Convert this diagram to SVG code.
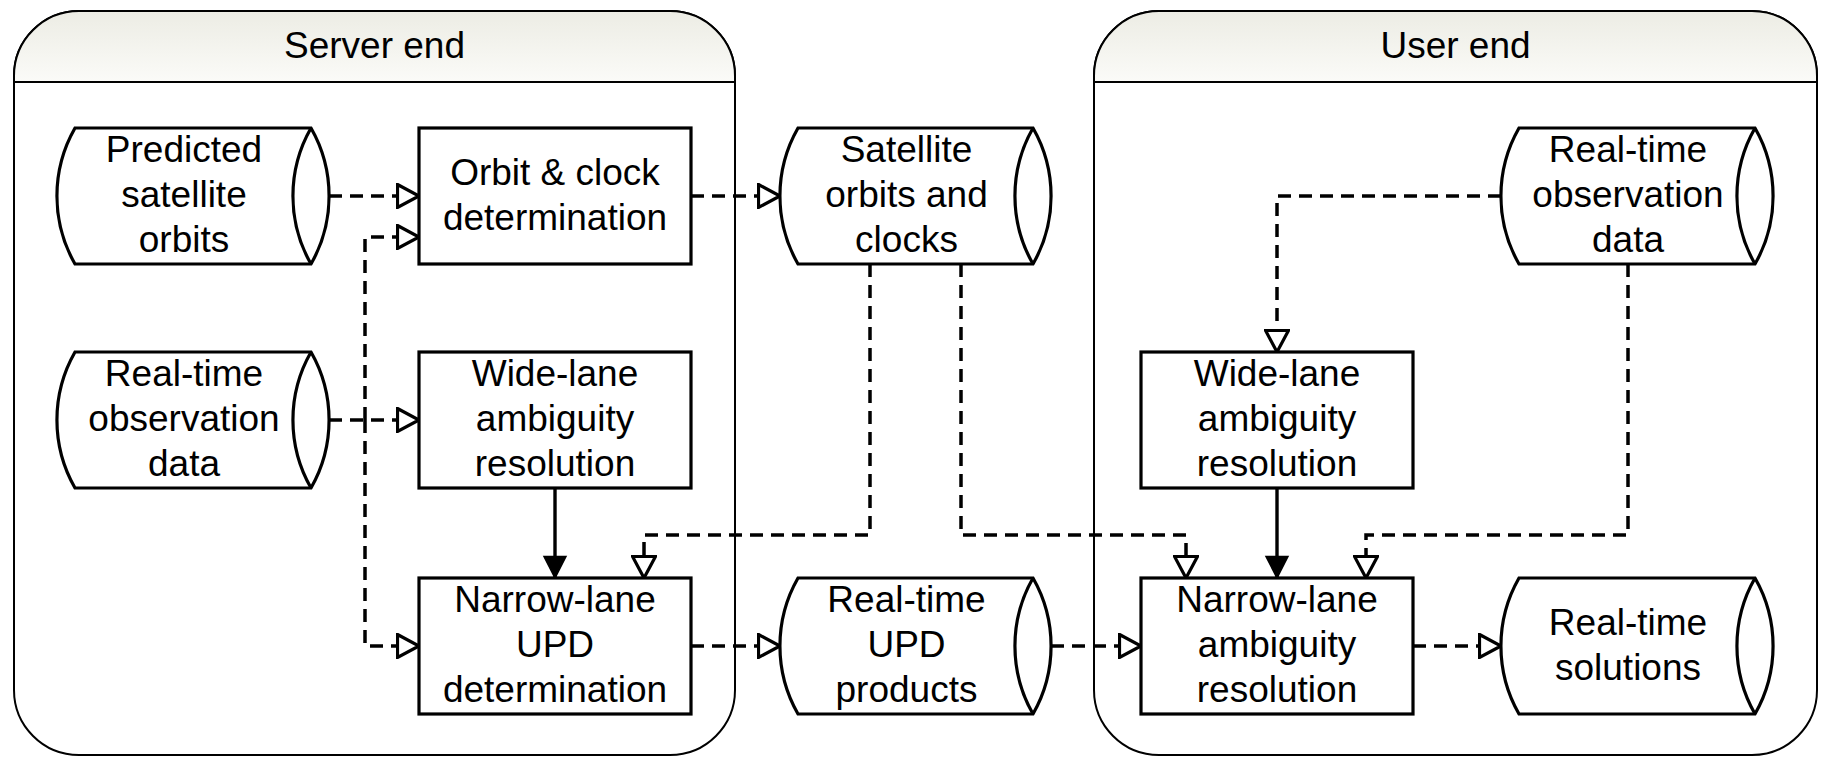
<svg xmlns="http://www.w3.org/2000/svg" width="1824" height="757" viewBox="0 0 1824 757">
<defs>
<linearGradient id="hdr" x1="0" y1="0" x2="0" y2="1">
<stop offset="0" stop-color="#ecece4"/>
<stop offset="1" stop-color="#fbfbf8"/>
</linearGradient>
<marker id="hollow" markerUnits="userSpaceOnUse" viewBox="0 0 25 26" refX="23" refY="13" markerWidth="25" markerHeight="26" orient="auto">
<path d="M1.5,1.5 L23,13 L1.5,24.5 Z" fill="#fff" stroke="#000" stroke-width="3.2" stroke-dasharray="none" stroke-linejoin="miter"/>
</marker>
<marker id="filled" markerUnits="userSpaceOnUse" viewBox="0 0 25 26" refX="23" refY="13" markerWidth="25" markerHeight="26" orient="auto">
<path d="M1.5,2 L23,13 L1.5,24 Z" fill="#000" stroke="#000" stroke-width="1.5" stroke-dasharray="none"/>
</marker>
</defs>
<style>
.cont{fill:#fff;stroke:#000;stroke-width:2}
.hdr{fill:url(#hdr);stroke:#000;stroke-width:2}
.node{fill:#fff;stroke:#000;stroke-width:3.2;stroke-linejoin:miter}
.inner{fill:none;stroke:#000;stroke-width:3.2}
text{font-family:"Liberation Sans",Arial,sans-serif;font-size:37px;fill:#000;text-anchor:middle}
.dash{fill:none;stroke:#000;stroke-width:3.5;stroke-dasharray:13 8;marker-end:url(#hollow)}
.solid{fill:none;stroke:#000;stroke-width:3.4;marker-end:url(#filled)}
</style>
<rect width="1824" height="757" fill="#fff"/>

<g id="server-end">
<rect class="cont" x="14" y="11" width="721" height="744" rx="65" ry="65"/>
<path class="hdr" d="M14,82 V76 A65,65 0 0 1 79,11 H670 A65,65 0 0 1 735,76 V82 Z"/>
<text x="374.5" y="58">Server end</text>
</g>

<g id="user-end">
<rect class="cont" x="1094" y="11" width="723" height="744" rx="65" ry="65"/>
<path class="hdr" d="M1094,82 V76 A65,65 0 0 1 1159,11 H1752 A65,65 0 0 1 1817,76 V82 Z"/>
<text x="1455.5" y="58">User end</text>
</g>

<g id="connectors">
<path class="dash" d="M329,196 H419"/>
<path class="dash" d="M329,420 H419"/>
<path class="dash" d="M365,420 V237 H419"/>
<path class="dash" d="M365,420 V646 H419"/>
<path class="dash" d="M691,196 H780"/>
<path class="dash" d="M691,646 H780"/>
<path class="dash" d="M1051,646 H1141"/>
<path class="dash" d="M870,264 V535 H644 V578"/>
<path class="dash" d="M961,264 V535 H1186 V578"/>
<path class="dash" d="M1501,196 H1277 V352"/>
<path class="dash" d="M1628,264 V535 H1366 V578"/>
<path class="dash" d="M1413,646 H1501"/>
<path class="solid" d="M555,488 V578"/>
<path class="solid" d="M1277,488 V578"/>
</g>

<g id="predicted-orbits">
<path class="node" d="M75,128 H311 A137,137 0 0 1 311,264 H75 A137,137 0 0 1 75,128 Z"/>
<path class="inner" d="M311,128 A137,137 0 0 0 311,264"/>
<text x="184" y="162">Predicted</text>
<text x="184" y="207">satellite</text>
<text x="184" y="252">orbits</text>
</g>

<g id="orbit-clock">
<rect class="node" x="419" y="128" width="272" height="136"/>
<text x="555" y="185">Orbit &amp; clock</text>
<text x="555" y="230">determination</text>
</g>

<g id="sat-orbits-clocks">
<path class="node" d="M798,128 H1033 A137,137 0 0 1 1033,264 H798 A137,137 0 0 1 798,128 Z"/>
<path class="inner" d="M1033,128 A137,137 0 0 0 1033,264"/>
<text x="906.5" y="162">Satellite</text>
<text x="906.5" y="207">orbits and</text>
<text x="906.5" y="252">clocks</text>
</g>

<g id="obs-server">
<path class="node" d="M75,352 H311 A137,137 0 0 1 311,488 H75 A137,137 0 0 1 75,352 Z"/>
<path class="inner" d="M311,352 A137,137 0 0 0 311,488"/>
<text x="184" y="386">Real-time</text>
<text x="184" y="431">observation</text>
<text x="184" y="476">data</text>
</g>

<g id="wl-server">
<rect class="node" x="419" y="352" width="272" height="136"/>
<text x="555" y="386">Wide-lane</text>
<text x="555" y="431">ambiguity</text>
<text x="555" y="476">resolution</text>
</g>

<g id="nl-upd">
<rect class="node" x="419" y="578" width="272" height="136"/>
<text x="555" y="612">Narrow-lane</text>
<text x="555" y="657">UPD</text>
<text x="555" y="702">determination</text>
</g>

<g id="upd-products">
<path class="node" d="M798,578 H1033 A137,137 0 0 1 1033,714 H798 A137,137 0 0 1 798,578 Z"/>
<path class="inner" d="M1033,578 A137,137 0 0 0 1033,714"/>
<text x="906.5" y="612">Real-time</text>
<text x="906.5" y="657">UPD</text>
<text x="906.5" y="702">products</text>
</g>

<g id="obs-user">
<path class="node" d="M1519,128 H1755 A137,137 0 0 1 1755,264 H1519 A137,137 0 0 1 1519,128 Z"/>
<path class="inner" d="M1755,128 A137,137 0 0 0 1755,264"/>
<text x="1628" y="162">Real-time</text>
<text x="1628" y="207">observation</text>
<text x="1628" y="252">data</text>
</g>

<g id="wl-user">
<rect class="node" x="1141" y="352" width="272" height="136"/>
<text x="1277" y="386">Wide-lane</text>
<text x="1277" y="431">ambiguity</text>
<text x="1277" y="476">resolution</text>
</g>

<g id="nl-user">
<rect class="node" x="1141" y="578" width="272" height="136"/>
<text x="1277" y="612">Narrow-lane</text>
<text x="1277" y="657">ambiguity</text>
<text x="1277" y="702">resolution</text>
</g>

<g id="solutions">
<path class="node" d="M1519,578 H1755 A137,137 0 0 1 1755,714 H1519 A137,137 0 0 1 1519,578 Z"/>
<path class="inner" d="M1755,578 A137,137 0 0 0 1755,714"/>
<text x="1628" y="635">Real-time</text>
<text x="1628" y="680">solutions</text>
</g>
</svg>
